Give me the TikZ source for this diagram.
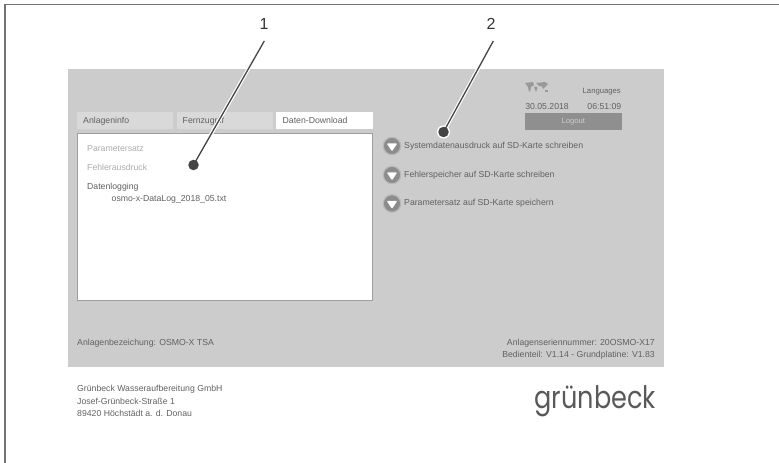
\documentclass[tikz,border=0pt]{standalone}
\usepackage{fontspec}
\setmainfont{Liberation Sans}
\newfontfamily\logofont{Poppins}
\definecolor{panel}{gray}{0.80}
\definecolor{tabg}{gray}{0.85}
\definecolor{txt}{gray}{0.38}
\definecolor{dim}{gray}{0.68}
\definecolor{lead}{gray}{0.27}
\definecolor{frameline}{gray}{0.45}
\definecolor{logoutbg}{gray}{0.56}
\definecolor{mapc}{gray}{0.60}
\definecolor{boxline}{gray}{0.62}
\tikzset{
  lbl/.style={font=\fontsize{8.7}{10}\selectfont,text=txt,inner sep=0pt,anchor=base west},
  lblr/.style={font=\fontsize{8.7}{10}\selectfont,text=txt,inner sep=0pt,anchor=base east},
  tabbox/.style={fill=tabg,draw=none,minimum width=96.5pt,minimum height=17pt,inner sep=0pt},
  num/.style={font=\fontsize{16}{18}\selectfont,text=black!80,inner sep=0pt},
  dotn/.style={circle,fill=lead,minimum size=10.5pt,inner sep=0pt},
  halo/.style={white,line width=3.6pt},
  leader/.style={lead,line width=1.3pt},
  roundbtn/.style={circle,fill=gray!90,draw=gray!55!white,line width=1.2pt,minimum size=17.5pt,inner sep=0pt},
}
\begin{document}
\begin{tikzpicture}[x=1pt,y=-1pt]
\useasboundingbox (0,0) rectangle (779,463);
\draw[frameline,line width=1.5pt] (5,463) -- (5,4.7) -- (779,4.7);
% panel
\fill[panel] (68,69) rectangle (664,367);
% tabs
\node[tabbox] (tab1) at (125,120.5) {};
\node[tabbox] (tab2) at (225,120.5) {};
\node[tabbox,fill=white] (tab3) at (324.5,120.5) {};
\node[lbl] at (83,123) {Anlageninfo};
\node[lbl] at (182.5,123) {Fernzugriff};
\node[lbl] at (282.5,123) {Daten-Download};
% list box
\draw[fill=white,draw=boxline,line width=1pt] (77.5,133.5) rectangle (372,300);
\node[lbl,text=dim] at (87,151.7) {Parametersatz};
\node[lbl,text=dim] at (87,170) {Fehlerausdruck};
\node[lbl] at (87,189) {Datenlogging};
\node[lbl] at (111.5,201) {osmo-x-DataLog\_2018\_05.txt};
% top right: world map
\begin{scope}[shift={(525,82)}]
\fill[mapc] (0,1) -- (8,0) -- (9,3) -- (6,5) -- (5.5,8) -- (4,10) -- (3,5) -- cycle;
\fill[mapc] (9,5) -- (11,4.5) -- (12.5,6) -- (11,10) -- cycle;
\fill[mapc] (11,1) -- (20,0) -- (23,2) -- (20,5) -- (18,7) -- (17,4.5) -- (14,4) -- cycle;
\fill[mapc] (20,8) rectangle (23,10);
\end{scope}
\node[lblr,font=\fontsize{7.7}{9}\selectfont] at (621,93.5) {Languages};
\node[lblr] at (569,109) {30.05.2018};
\node[lblr] at (621.5,109) {06:51:09};
\node[fill=logoutbg,minimum width=96.5pt,minimum height=17.5pt,inner sep=0pt,font=\fontsize{7.7}{9}\selectfont,text=gray!40!white] (logout) at (573.3,121.3) {Logout};
% buttons
\foreach \n/\y/\b/\t in {a/146/148.2/Systemdatenausdruck auf SD-Karte schreiben,b/175/177.1/Fehlerspeicher auf SD-Karte schreiben,c/203.5/205.9/Parametersatz auf SD-Karte speichern}{
  \node[roundbtn] (btn\n) at (392,\y) {};
  \fill[white,line join=round,draw=white,line width=1.5pt] (388,\y-2) -- (396,\y-2) -- (392,\y+4) -- cycle;
  \node[lbl] at (404,\b) {\t};
}
% bottom texts
\node[lbl] at (77,345) {Anlagenbezeichung: OSMO-X TSA};
\node[lblr] at (655,345.2) {Anlagenseriennummer: 20OSMO-X17};
\node[lblr] at (655,357.4) {Bedienteil: V1.14 - Grundplatine: V1.83};
\node[lbl] at (77,391.7) {Grünbeck Wasseraufbereitung GmbH};
\node[lbl] at (77,404) {Josef-Grünbeck-Straße 1};
\node[lbl] at (77,416.2) {89420 Höchstädt a. d. Donau};
\node[inner sep=0pt,anchor=base east,xscale=0.825,text=black!65,font=\logofont\fontsize{31}{34}\selectfont] at (656,408.5) {grünbeck};
% callouts
\node[num] (n1) at (264,24) {1};
\node[num] (n2) at (491,24) {2};
\node[dotn] (d1) at (193.5,165) {};
\node[dotn] (d2) at (443.5,132) {};
\coordinate (t1) at (264.3,41);
\coordinate (t2) at (493.3,41);
\draw[halo] (t1) -- (d1.center);
\draw[halo] (t2) -- (d2.center);
\fill[white] (d1) circle (6.6pt);
\fill[white] (d2) circle (6.6pt);
\node[dotn] at (d1) {};
\node[dotn] at (d2) {};
\draw[leader] (t1) -- (d1.center);
\draw[leader] (t2) -- (d2.center);
\end{tikzpicture}
\end{document}
